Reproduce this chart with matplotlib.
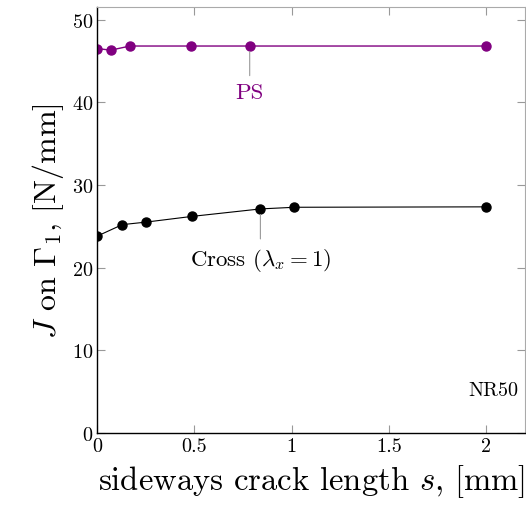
import matplotlib
matplotlib.use("Agg")
import matplotlib.pyplot as plt

plt.rcParams['font.family'] = 'serif'
plt.rcParams['font.serif'] = ['cmr10']
plt.rcParams['mathtext.fontset'] = 'cm'
plt.rcParams['axes.formatter.use_mathtext'] = True

ps_x = [0.0, 0.07, 0.17, 0.485, 0.785, 2.0]
ps_y = [46.5, 46.3, 46.8, 46.8, 46.8, 46.8]
cross_x = [0.0, 0.13, 0.25, 0.49, 0.84, 1.015, 2.0]
cross_y = [23.8, 25.2, 25.5, 26.2, 27.1, 27.3, 27.35]
xticks = [0, 0.5, 1, 1.5, 2]
xtick_labels = ['0', '0.5', '1', '1.5', '2']
yticks = [0, 10, 20, 30, 40, 50]

purple = '#800080'
fig = plt.figure(figsize=(5.26, 5.10), dpi=100)
ax = fig.add_axes([0.1844, 0.149, 0.8136, 0.835])

ax.plot(ps_x, ps_y, color=purple, lw=1.0, marker='o', ms=6.5)
ax.plot(cross_x, cross_y, color='black', lw=0.8, marker='o', ms=6.5)

ax.set_xlim(0, 2.2)
ax.set_ylim(0, 51.5)
ax.set_xticks(xticks)
ax.set_xticklabels(xtick_labels)
ax.set_yticks(yticks)
ax.tick_params(direction='in', length=6, color='#999999', labelsize=14.5,
               top=True, right=True, width=0.8, pad=3)
for s in ['top', 'right']:
    ax.spines[s].set_color('#aaaaaa')
for s in ['left', 'bottom']:
    ax.spines[s].set_color('black')
    ax.spines[s].set_linewidth(1.0)

ax.set_xlabel(r'sideways crack length $s$, [mm]', fontsize=23.5, labelpad=5)
ax.set_ylabel(r'$J$ on $\Gamma_1$, [N/mm]', fontsize=23, labelpad=4)

# annotations
ax.annotate('PS', xy=(ps_x[4], ps_y[4]), xytext=(ps_x[4], 41.2),
            ha='center', va='center', fontsize=16.5, color=purple,
            arrowprops=dict(arrowstyle='-', color='#999999', lw=0.8, shrinkA=3, shrinkB=4))
ax.annotate(r'Cross ($\lambda_x = 1$)', xy=(cross_x[4], cross_y[4]), xytext=(cross_x[4], 21.0),
            ha='center', va='center', fontsize=16.5, color='black',
            arrowprops=dict(arrowstyle='-', color='#999999', lw=0.8, shrinkA=3, shrinkB=4))
ax.text(0.985, 0.1, 'NR50', transform=ax.transAxes, ha='right', va='center', fontsize=14.5)

fig.savefig('out.png', dpi=100)
